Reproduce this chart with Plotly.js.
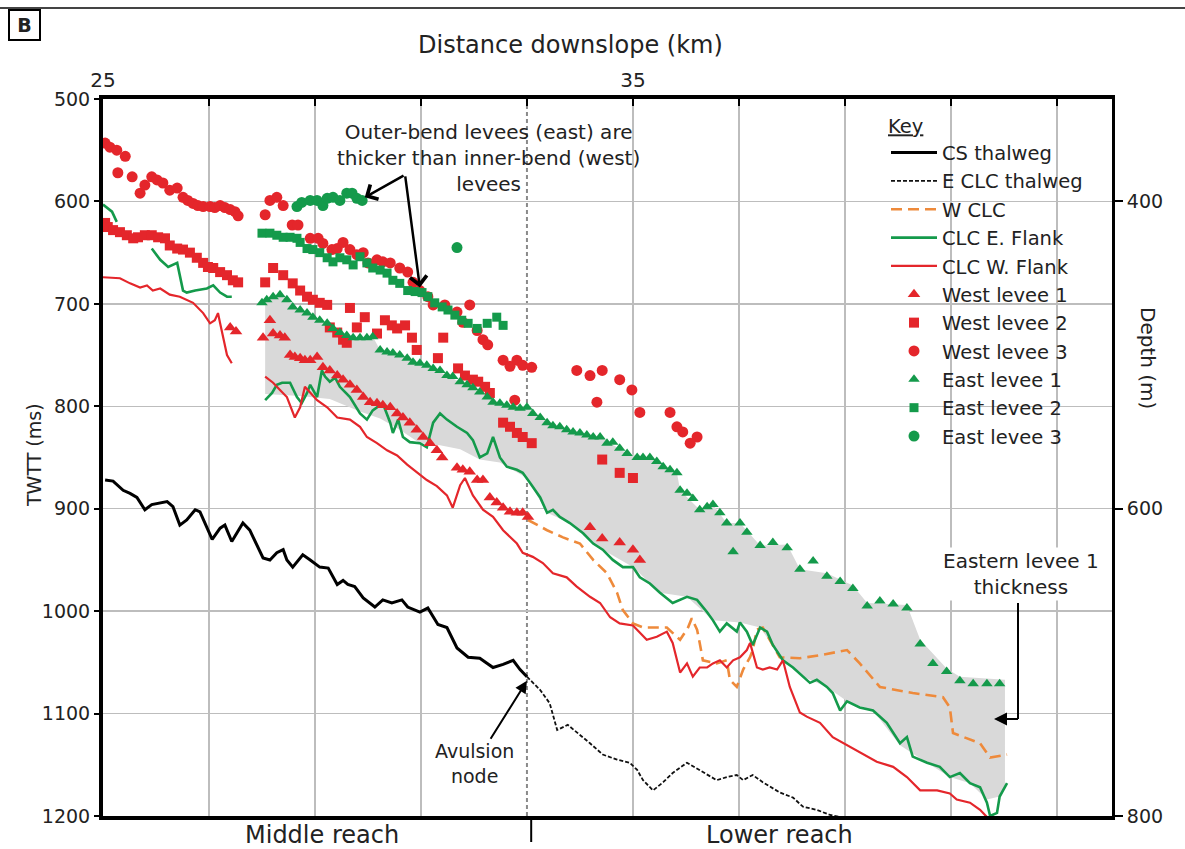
<!DOCTYPE html>
<html>
<head>
<meta charset="utf-8">
<script src="https://cdn.plot.ly/plotly-3.0.1.min.js"></script>
<style>html,body{margin:0;padding:0;background:#fff;}#chart{width:1185px;height:849px;}</style>
</head>
<body>
<div id="chart"></div>
<script>
// ---------- DATA (km downslope, TWTT ms) ----------
var csKm = [25.04,25.19,25.38,25.51,25.64,25.79,25.92,26.08,26.21,26.32,26.45,26.58,26.74,26.83,27.06,27.21,27.30,27.43,27.53,27.64,27.77,28.02,28.15,28.28,28.40,28.47,28.58,28.77,28.91,29.09,29.25,29.42,29.53,29.62,29.75,29.91,30.13,30.28,30.45,30.64,30.75,30.98,31.13,31.32,31.49,31.68,31.89,32.11,32.36,32.55,32.74,32.87,33.00];
var csMs = [872,873,882,885,889,901,896,894,893,898,916,911,901,903,930,919,916,932,924,914,921,948,950,943,940,950,957,945,950,957,958,974,970,974,976,987,996,989,992,989,996,1001,997,1013,1016,1036,1045,1046,1055,1052,1048,1057,1064];

var eclcKm = [33.00,33.25,33.43,33.57,33.77,33.94,34.19,34.43,34.70,34.94,35.08,35.19,35.38,35.57,35.75,36.02,36.26,36.58,36.77,36.96,37.08,37.26,37.45,37.77,38.02,38.21,38.47,38.72,39.00];
var eclcMs = [1064,1077,1090,1116,1111,1118,1129,1140,1145,1148,1155,1165,1175,1167,1158,1148,1155,1165,1162,1160,1165,1160,1167,1177,1182,1191,1194,1199,1202];

var wclcKm = [33.02,33.38,33.68,34.00,34.25,34.51,34.70,34.81,35.00,35.19,35.45,35.64,35.89,36.04,36.11,36.21,36.26,36.32,36.58,36.77,36.83,36.96,37.08,37.21,37.26,37.34,37.45,37.77,38.15,38.53,39.04,39.28,39.66,40.28,40.85,40.98,41.04,41.55,41.74,42.06];
var wclcMs = [911,921,928,934,950,963,982,999,1012,1016,1016,1016,1028,1016,1007,1018,1031,1048,1051,1048,1067,1074,1057,1045,1038,1018,1016,1045,1046,1043,1038,1051,1074,1080,1084,1094,1119,1129,1143,1140];

var eFlankKm = [25.00,25.17,25.26,null,25.92,26.08,26.23,26.40,26.51,26.58,26.74,26.96,27.08,27.21,27.34,27.43,null,
 28.06,28.19,28.28,28.38,28.53,28.66,28.75,28.85,28.91,29.04,29.13,29.19,29.28,29.38,29.47,29.66,29.85,29.98,30.09,30.28,30.42,30.47,30.57,30.66,30.79,30.98,31.11,31.23,31.36,31.49,31.68,31.87,31.98,32.11,32.25,32.36,32.49,32.62,32.81,32.92,
 33.06,33.25,33.38,33.49,33.62,33.81,34.06,34.25,34.43,34.62,34.81,35.00,35.13,35.32,35.51,35.75,36.02,36.21,36.40,36.51,36.64,36.77,36.96,37.02,37.15,37.26,37.40,37.53,37.64,37.83,38.02,38.21,38.34,38.47,38.66,38.77,38.91,39.04,39.28,39.53,39.79,40.04,40.17,40.28,40.55,40.79,40.98,41.17,41.36,41.55,41.68,41.74,41.87,41.92,42.06];
var eFlankMs = [603,610,620,null,646,657,664,660,687,689,687,685,682,689,693,693,null,
 794,787,779,777,777,791,797,787,779,791,765,771,776,772,781,791,807,813,804,797,816,826,813,830,835,836,840,816,807,813,820,826,833,850,846,830,850,859,862,865,
 875,889,904,901,908,914,924,934,940,950,957,957,967,973,982,992,986,989,1001,1009,1020,1012,1020,1011,1020,1033,1016,1020,1033,1048,1055,1064,1070,1067,1074,1080,1097,1088,1094,1097,1109,1129,1123,1142,1148,1152,1162,1158,1168,1172,1187,1200,1197,1181,1168];

var wFlankKm = [25.00,25.32,25.51,25.70,25.83,25.94,26.08,26.26,26.45,26.70,26.89,27.02,27.11,27.17,27.21,27.26,27.34,27.43,null,
 28.06,28.21,28.34,28.47,28.62,28.72,28.81,28.91,29.04,29.23,29.42,29.66,29.85,29.98,30.17,30.36,30.55,30.74,30.92,31.11,31.30,31.49,31.60,31.74,31.83,31.98,32.17,32.36,32.55,32.81,32.92,
 33.11,33.30,33.49,33.75,33.94,34.19,34.38,34.57,34.75,35.00,35.26,35.45,35.64,35.75,35.89,36.02,36.13,36.26,36.40,36.51,36.64,36.77,36.89,37.02,37.15,37.21,37.26,37.34,37.45,37.58,37.72,37.83,37.96,38.15,38.28,38.40,38.53,38.77,39.04,39.28,39.60,39.91,40.17,40.42,40.74,40.98,41.11,41.36,41.55,41.68,42.06];
var wFlankMs = [674,675,680,684,682,687,685,691,693,699,709,719,716,709,719,732,750,758,null,
 771,777,784,791,811,801,781,787,794,801,811,813,820,830,836,843,848,857,864,872,878,887,899,877,870,887,901,908,921,934,943,
 947,953,963,967,976,986,992,1006,1012,1014,1028,1025,1020,1031,1060,1051,1064,1055,1055,1051,1048,1055,1048,1045,1038,1031,1041,1055,1057,1055,1057,1048,1074,1099,1103,1106,1109,1123,1131,1138,1147,1152,1162,1175,1175,1178,1184,1187,1194,1201,1201];

var wl1Km = [27.40,27.51,28.02,28.15,28.21,28.34,28.43,28.53,28.62,28.72,28.81,28.91,29.04,29.15,29.28,29.42,29.53,29.66,29.79,29.91,30.04,30.17,30.28,30.42,30.55,30.66,30.79,30.92,31.04,31.17,31.30,31.40,31.68,31.79,31.92,32.06,32.17,32.30,32.43,32.55,32.68,32.81,32.92,33.02,34.19,34.42,34.75,35.00,35.13];
var wl1Ms = [723,727,733,716,729,731,733,750,752,753,755,755,752,762,765,770,774,779,784,791,796,797,799,801,807,811,816,823,830,836,843,850,860,862,864,872,872,889,894,899,903,904,904,908,918,929,933,940,950];

var wl2Km = [25.04,25.09,25.19,25.32,25.45,25.57,25.66,25.79,25.92,26.04,26.17,26.26,26.40,26.51,26.64,26.77,26.89,26.98,27.08,27.21,27.34,27.45,27.55,
 28.06,28.21,28.40,28.58,28.72,28.85,28.96,29.09,29.23,29.28,29.42,29.53,29.60,29.66,29.79,29.94,30.17,30.32,30.45,30.55,30.70,30.83,30.92,31.32,31.42,31.70,31.83,31.98,32.08,32.21,32.30,32.55,32.68,32.81,32.92,33.09,34.42,34.75,35.00];
var wl2Ms = [621,625,628,630,633,636,635,633,633,635,636,643,646,647,650,655,660,664,665,669,672,677,679,
 679,665,672,680,687,693,696,699,701,723,728,735,738,704,723,713,729,716,721,724,721,733,745,753,733,763,770,774,776,781,787,816,820,826,830,836,852,865,870];

var wl3Km = [25.04,25.13,25.26,25.42,25.28,25.55,25.70,25.79,25.92,26.02,26.13,26.26,26.40,26.51,26.60,26.70,26.79,26.89,27.02,27.11,27.21,27.30,27.40,27.49,27.55,
 28.06,28.15,28.28,28.40,28.57,28.68,28.91,29.06,29.15,29.32,29.42,29.53,29.66,29.79,29.91,30.00,30.17,30.28,30.42,30.60,30.75,30.85,30.98,31.13,31.23,31.45,31.68,31.92,31.79,32.06,32.17,32.26,32.55,32.68,32.81,32.92,33.09,32.77,
 33.94,34.19,34.42,34.32,34.75,34.98,35.13,35.70,35.83,35.94,36.21,36.08];
var wl3Ms = [543,547,550,556,572,576,592,584,576,579,582,589,587,596,599,602,604,605,605,606,604,606,608,610,614,
 613,599,596,604,623,623,636,636,641,647,646,640,647,652,650,660,657,659,660,665,669,679,687,693,701,701,708,701,718,726,735,740,755,761,755,760,762,794,
 765,770,765,796,774,784,806,806,820,825,830,836];

var el1Km = [28.00,28.09,28.21,28.34,28.47,28.58,28.72,28.85,28.96,29.09,29.23,29.34,29.47,29.60,29.72,29.85,29.98,30.09,
 30.23,30.36,30.47,30.60,30.74,30.85,30.98,31.11,31.23,31.36,31.49,31.60,31.74,31.87,31.98,32.11,32.25,32.36,32.49,32.62,32.74,32.87,33.00,33.11,33.25,33.38,33.49,33.62,33.75,33.87,34.00,34.13,34.25,34.38,34.51,34.62,34.75,34.89,35.08,35.19,35.32,35.45,35.57,35.70,35.83,
 35.89,36.02,36.13,36.26,36.40,36.51,36.64,36.77,37.02,37.15,36.89,37.40,37.64,37.91,38.15,38.40,38.66,38.91,39.15,39.42,39.66,39.91,40.17,40.42,40.66,40.92,41.17,41.42,41.68,41.92];
var el1Ms = [699,696,693,691,696,703,706,709,713,716,719,724,728,731,733,733,733,732,
 745,747,748,750,753,757,758,760,763,765,770,771,776,779,782,786,791,796,797,799,801,802,801,807,811,816,819,820,823,825,826,828,830,830,836,835,841,846,850,850,850,854,859,862,865,
 882,885,890,901,898,896,904,914,914,923,942,936,933,938,959,951,966,971,978,995,990,993,997,1032,1051,1059,1068,1071,1071,1071];

var el2Km = [28.00,28.15,28.28,28.40,28.53,28.66,28.72,28.85,28.96,29.09,29.23,29.34,29.47,29.60,29.72,29.85,29.98,30.09,30.23,30.36,30.47,30.60,30.75,30.89,31.02,31.13,31.26,31.40,31.51,31.64,31.77,31.89,32.06,32.25,32.43,32.55];
var el2Ms = [631,631,633,635,635,636,640,646,647,650,655,659,655,657,662,654,660,665,667,670,677,680,687,688,689,693,699,703,706,711,716,719,724,719,713,721];

var el3Km = [28.66,28.75,28.91,29.04,29.15,29.23,29.34,29.47,29.60,29.70,29.79,29.89,31.68];
var el3Ms = [605,601,599,599,604,597,596,599,592,592,597,599,645];

// Eastern levee 1 thickness band (upper edge left->right, lower edge right->left)
var bandTopKm = [28.06,28.21,28.34,28.47,28.72,29.09,29.47,29.72,30.09,30.23,30.98,31.49,32.11,32.49,33.00,33.49,34.38,34.89,35.32,35.83,35.89,36.26,36.51,36.77,37.02,37.40,37.91,38.15,38.66,39.15,39.42,40.17,40.42,40.92,41.17,42.02];
var bandTopMs = [699,693,691,696,706,716,728,733,732,745,758,770,786,797,801,819,830,846,850,865,882,901,896,914,914,936,935,959,963,975,992,994,1028,1056,1064,1067];
var bandBotKm = [42.02,41.92,41.68,41.36,40.98,40.55,40.04,39.53,39.04,38.66,38.21,37.83,37.40,37.02,36.51,36.02,35.51,35.00,34.43,33.81,33.38,33.00,32.49,32.11,31.74,31.36,30.98,30.60,30.23,29.85,29.28,28.72,28.06];
var bandBotMs = [1170,1181,1184,1168,1162,1148,1131,1097,1088,1074,1064,1048,1016,1011,1009,986,982,957,940,914,904,870,855,852,842,838,836,823,812,805,793,790,788];

var gridKm = [25,27,29,31,35,37,39,41,43];
var tickKm = [25,27,29,31,33,35,37,39,41,43];
var tickKmText = ['25','','','','35','','','',''];
var twttTicks = [500,600,700,800,900,1000,1100,1200];
var depthTicks = [400,600,800];

// ---------- STYLE ----------
var RED = '#e4262b', GREEN = '#149a4b', ORANGE = '#ee8a3b', GRAY = '#d9d9d9';
var FONT = 'DejaVu Sans, Verdana, sans-serif';

var traces = [];
traces.push({x: bandTopKm.concat(bandBotKm), y: bandTopMs.concat(bandBotMs), mode:'lines', fill:'toself',
  fillcolor: GRAY, line:{width:0, color:GRAY}, showlegend:false, hoverinfo:'skip'});
traces.push({name:'CS thalweg', x:csKm, y:csMs, mode:'lines', line:{color:'#000', width:3}, legendrank:1});
traces.push({name:'E CLC thalweg', x:eclcKm, y:eclcMs, mode:'lines', line:{color:'#111', width:1.8, dash:'4px,2px'}, legendrank:2});
traces.push({name:'W CLC', x:wclcKm, y:wclcMs, mode:'lines', line:{color:ORANGE, width:2.6, dash:'11px,6px'}, legendrank:3});
traces.push({name:'CLC E. Flank', x:eFlankKm, y:eFlankMs, mode:'lines', connectgaps:false, line:{color:GREEN, width:2.6}, legendrank:4});
traces.push({name:'CLC W. Flank', x:wFlankKm, y:wFlankMs, mode:'lines', connectgaps:false, line:{color:RED, width:2.2}, legendrank:5});
traces.push({name:'West levee 1', x:wl1Km, y:wl1Ms, mode:'markers', marker:{symbol:'triangle-up', size:11, color:RED}, legendrank:6});
traces.push({name:'West levee 2', x:wl2Km, y:wl2Ms, mode:'markers', marker:{symbol:'square', size:10, color:RED}, legendrank:7});
traces.push({name:'West levee 3', x:wl3Km, y:wl3Ms, mode:'markers', marker:{symbol:'circle', size:11, color:RED}, legendrank:8});
traces.push({name:'East levee 1', x:el1Km, y:el1Ms, mode:'markers', marker:{symbol:'triangle-up', size:10, color:GREEN}, legendrank:9});
traces.push({name:'East levee 2', x:el2Km, y:el2Ms, mode:'markers', marker:{symbol:'square', size:9, color:GREEN}, legendrank:10});
traces.push({name:'East levee 3', x:el3Km, y:el3Ms, mode:'markers', marker:{symbol:'circle', size:11, color:GREEN}, legendrank:11});
traces.push({x:[30], y:[600], xaxis:'x2', yaxis:'y2', mode:'markers', marker:{opacity:0}, showlegend:false, hoverinfo:'skip'});

var L = 103, R = 1112, T = 99, B = 816, W = 1185, H = 849;
function px(p){ return (p - L) / (R - L); }
function py(p){ return (B - p) / (B - T); }
function note(xp, yp, text, size, extra){
  var a = {xref:'paper', yref:'paper', x:px(xp), y:py(yp), xanchor:'center', yanchor:'middle', text:text,
    showarrow:false, font:{size:size, color:'#222'}, align:'center'};
  for (var k in (extra||{})) a[k] = extra[k];
  return a;
}

var layout = {
  width: W, height: H,
  margin: {l: L, r: W - R, t: T, b: H - B},
  paper_bgcolor: '#fff', plot_bgcolor: '#fff',
  font: {family: FONT, color: '#222', size: 19},
  showlegend: true,
  legend: {x: px(886), y: py(108), xanchor:'left', yanchor:'top', bgcolor:'rgba(255,255,255,0)',
    font:{size:19.5, color:'#222'}, itemwidth: 46, tracegroupgap: 0, traceorder:'normal',
    title:{text:'<u>Key</u>', font:{size:19.5, color:'#222'}}},
  xaxis: {side:'top', range:[25, 44.04], tickmode:'array', tickvals:gridKm, ticktext:tickKmText,
    ticks:'', showgrid:true, gridcolor:'#bdbdbd', gridwidth:1.3, zeroline:false,
    showline:true, linecolor:'#000', linewidth:4, mirror:true, tickfont:{size:20}},
  xaxis2: {overlaying:'x', side:'top', range:[25, 44.04], tickmode:'array', tickvals:tickKm,
    ticks:'inside', ticklen:7, tickwidth:2, tickcolor:'#000', showticklabels:false, showgrid:false, zeroline:false, showline:false},
  yaxis: {range:[1200, 500], tickmode:'array', tickvals:twttTicks, ticks:'outside', ticklen:5, tickwidth:2, tickcolor:'#000',
    showgrid:true, gridcolor:'#bdbdbd', gridwidth:1.3, zeroline:false, showline:true, linecolor:'#000', linewidth:4,
    tickfont:{size:19}},
  yaxis2: {overlaying:'y', side:'right', range:[800, 1000/3], tickmode:'array', tickvals:depthTicks, ticks:'outside',
    ticklen:8, tickwidth:2, tickcolor:'#000', showgrid:false, zeroline:false, showline:true, linecolor:'#000', linewidth:3,
    tickfont:{size:19}},
  shapes: [
    {type:'rect', xref:'paper', yref:'paper', x0:px(872), x1:1, y0:py(447), y1:1, fillcolor:'#fff', line:{width:0}, layer:'between'},
    {type:'rect', xref:'paper', yref:'paper', x0:px(300), x1:px(600), y0:py(188), y1:1, fillcolor:'#fff', line:{width:0}, layer:'between'},
    {type:'line', xref:'x', yref:'paper', x0:33, x1:33, y0:0, y1:1, line:{color:'#8a8a8a', width:2, dash:'4px,3px'}, layer:'between'},
    {type:'line', xref:'x', yref:'paper', x0:33.08, x1:33.08, y0:0, y1:py(842), line:{color:'#000', width:2}},
    {type:'line', xref:'paper', yref:'paper', x0:px(0), x1:px(1185), y0:py(8), y1:py(8), line:{color:'#444', width:2}},
    {type:'line', xref:'paper', yref:'paper', x0:px(1018), x1:px(1018), y0:py(603), y1:py(719), line:{color:'#000', width:2}},
    {type:'line', xref:'paper', yref:'paper', x0:px(1018), x1:px(1002), y0:py(719), y1:py(719), line:{color:'#000', width:2}}
  ],
  annotations: [
    note(570, 45, 'Distance downslope (km)', 24),
    note(24, 25, '<b>B</b>', 19, {bordercolor:'#000', borderwidth:2, borderpad:1, bgcolor:'#fff', width:27, height:26}),
    note(34, 455, 'TWTT (ms)', 19, {textangle:-90}),
    note(1148, 358, 'Depth (m)', 20, {textangle:90}),
    note(322, 835, 'Middle reach', 24),
    note(779, 835, 'Lower reach', 24),
    note(488, 158, 'Outer-bend levees (east) are<br>thicker than inner-bend (west)<br>levees', 20),
    note(1021, 574, 'Eastern levee 1<br>thickness', 20, {bgcolor:'#fff'}),
    {x:33.0, y:1068, text:'Avulsion<br>node', showarrow:true, ax:-52, ay:83, arrowhead:2, arrowsize:1.2, arrowwidth:2, arrowcolor:'#000', font:{size:19, color:'#222'}, align:'center'},
    {x:29.94, y:596, axref:'x', ayref:'y', ax:30.70, ay:574, text:'', showarrow:true, arrowhead:4, arrowsize:1.3, arrowwidth:2.5, arrowcolor:'#000'},
    {x:30.98, y:684, axref:'x', ayref:'y', ax:30.70, ay:574, text:'', showarrow:true, arrowhead:4, arrowsize:1.3, arrowwidth:2.5, arrowcolor:'#000'},
    {xref:'paper', yref:'paper', x:px(994), y:py(719), ax:16, ay:0, text:'', showarrow:true, arrowhead:2, arrowsize:1.3, arrowwidth:2, arrowcolor:'#000'}
  ]
};

Plotly.newPlot('chart', traces, layout, {displayModeBar:false, staticPlot:true});
</script>
</body>
</html>
